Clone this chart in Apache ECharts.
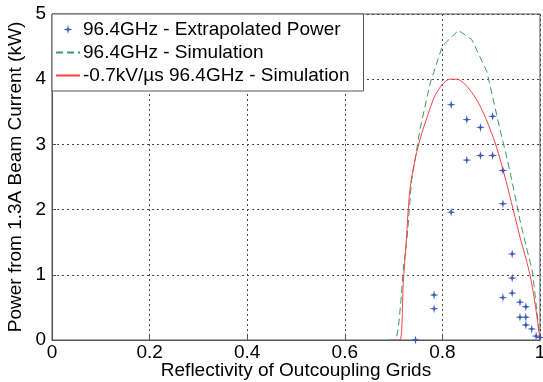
<!DOCTYPE html>
<html>
<head>
<meta charset="utf-8">
<script src="https://cdn.jsdelivr.net/npm/echarts@6/dist/echarts.min.js"></script>
<style>html,body{margin:0;padding:0;background:#fff}#c{width:543px;height:382px}</style>
</head>
<body>
<div id="c"></div>
<script>
// ---- data ----
const xTicks = [0, 0.2, 0.4, 0.6, 0.8, 1];
const yTicks = [0, 1, 2, 3, 4, 5];
const seriesNames = ['96.4GHz - Extrapolated Power', '96.4GHz - Simulation', '-0.7kV/\u00b5s 96.4GHz - Simulation'];

const extrapX = [0.745, 0.783, 0.783, 0.818, 0.818, 0.85, 0.85, 0.878, 0.878, 0.903, 0.903, 0.924, 0.924, 0.924, 0.943, 0.943, 0.943, 0.959, 0.959, 0.971, 0.971, 0.971, 0.983, 0.992, 1.0];
const extrapY = [0.0, 0.69, 0.48, 3.61, 1.96, 3.38, 2.76, 3.26, 2.83, 3.43, 2.83, 2.60, 2.09, 0.65, 1.32, 0.95, 0.72, 0.58, 0.35, 0.51, 0.35, 0.23, 0.17, 0.06, 0.04];

const simX = [0.69, 0.705, 0.71, 0.715, 0.72, 0.728, 0.737, 0.754, 0.775, 0.80, 0.833, 0.86, 0.891, 0.918, 0.933, 0.945, 0.96, 0.985, 1.0];
const simY = [0.0, 0.0, 0.2, 0.6, 1.1, 1.6, 2.45, 3.23, 3.94, 4.51, 4.75, 4.61, 4.12, 3.23, 2.77, 2.35, 1.8, 1.03, 0.0];

const rampX = [0.70, 0.713, 0.72, 0.725, 0.73, 0.735, 0.745, 0.755, 0.77, 0.785, 0.80, 0.815, 0.83, 0.845, 0.86, 0.875, 0.89, 0.91, 0.93, 0.945, 0.96, 0.978, 0.99, 1.0];
const rampY = [0.0, 0.0, 0.9, 1.4, 2.0, 2.4, 2.8, 3.1, 3.45, 3.75, 3.92, 4.0, 4.0, 3.93, 3.8, 3.62, 3.38, 2.98, 2.45, 2.0, 1.55, 1.05, 0.55, 0.0];

const zip = (xs, ys) => xs.map((x, i) => [x, ys[i]]);
const FONT = "'Liberation Sans', Arial, sans-serif";
const noSym = {color: 'rgba(0,0,0,0)', borderWidth: 0, opacity: 0};

const chart = echarts.init(document.getElementById('c'), null, {renderer: 'canvas'});
chart.setOption({
  animation: false,
  backgroundColor: '#fff',
  textStyle: {fontFamily: FONT},
  grid: {left: 52, right: 3, top: 14, bottom: 42, containLabel: false, outerBoundsMode: 'none',
         show: true, borderColor: '#555', borderWidth: 1, backgroundColor: 'transparent'},
  legend: {
    left: 52, top: 14, orient: 'vertical',
    padding: [6, 14, 6, 3],
    itemGap: 4, itemWidth: 24, itemHeight: 9,
    backgroundColor: '#fff', borderColor: '#555', borderWidth: 1, borderRadius: 0,
    textStyle: {fontSize: 19, color: '#000', fontFamily: FONT, padding: [0, 0, 0, -2]},
    data: [
      {name: seriesNames[0]},
      {name: seriesNames[1], itemStyle: noSym},
      {name: seriesNames[2], itemStyle: noSym}
    ]
  },
  xAxis: {
    type: 'value', min: xTicks[0], max: xTicks[xTicks.length - 1], interval: 0.2,
    name: 'Reflectivity of Outcoupling Grids', nameLocation: 'middle', nameGap: 21, nameMoveOverlap: false,
    nameTextStyle: {fontSize: 19, color: '#000', fontFamily: FONT},
    axisLine: {show: true, lineStyle: {color: '#555', width: 1}},
    axisTick: {show: true, inside: true, length: 4, lineStyle: {color: '#555'}},
    axisLabel: {fontSize: 19, color: '#000', margin: 3, fontFamily: FONT, formatter: v => String(v)},
    splitLine: {show: true, lineStyle: {color: '#444', type: [2, 3], width: 1}}
  },
  yAxis: {
    type: 'value', min: yTicks[0], max: yTicks[yTicks.length - 1], interval: 1,
    name: 'Power from 1.3A Beam Current (kW)', nameLocation: 'middle', nameGap: 27, nameMoveOverlap: false,
    nameTextStyle: {fontSize: 19, color: '#000', fontFamily: FONT},
    axisLine: {show: true, lineStyle: {color: '#555', width: 1}},
    axisTick: {show: true, inside: true, length: 4, lineStyle: {color: '#555'}},
    axisLabel: {fontSize: 19, color: '#000', margin: 6, fontFamily: FONT},
    splitLine: {show: true, lineStyle: {color: '#444', type: [2, 3], width: 1}}
  },
  series: [
    {
      name: seriesNames[0], type: 'scatter', data: zip(extrapX, extrapY),
      symbol: 'path://M5,0 L6,4 L10,5 L6,6 L5,10 L4,6 L0,5 L4,4 Z', symbolSize: 9,
      itemStyle: {color: '#3552b5', opacity: 0.95}, z: 5
    },
    {
      name: seriesNames[1], type: 'line', data: zip(simX, simY),
      symbol: 'none', showSymbol: false,
      lineStyle: {color: '#3a9a64', width: 1, type: [7, 4]}, itemStyle: {color: '#3a9a64'}, z: 3
    },
    {
      name: seriesNames[2], type: 'line', data: zip(rampX, rampY),
      symbol: 'none', showSymbol: false, smooth: 0.3,
      lineStyle: {color: '#ff3f3f', width: 1}, itemStyle: {color: '#ff3f3f'}, z: 4
    }
  ]
});
</script>
</body>
</html>
